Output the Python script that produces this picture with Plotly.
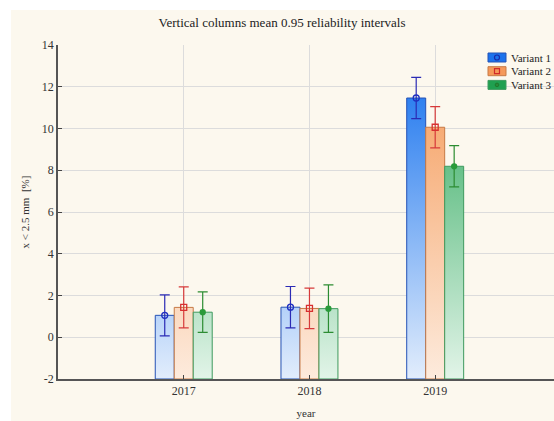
import plotly.graph_objects as go

# Category labels and series (mean with 0.95 interval half-widths)
years = ["2017", "2018", "2019"]
series_names = ["Variant 1", "Variant 2", "Variant 3"]
means_v1 = [1.05, 1.44, 11.46]
means_v2 = [1.43, 1.38, 10.06]
means_v3 = [1.20, 1.37, 8.19]
err_v1 = [0.98, 0.99, 0.99]
err_v2 = [0.98, 0.97, 0.99]
err_v3 = [0.97, 1.14, 0.99]
y_ticks = [-2, 0, 2, 4, 6, 8, 10, 12, 14]

SERIF = "Liberation Serif, Times New Roman, serif"
BASE = -2.0          # columns rise from the bottom of the value axis
BAR_W = 0.151        # column width in category units
OFFSETS = [-BAR_W, 0.0, BAR_W]

styles = [
    dict(light="#e2edfc", dark="#1a74ee", edge="#2552b5", err="#2b2bb5",
         symbol="circle-open", msize=6, mcolor="#1f2fc0", box="#1b72ec"),
    dict(light="#fdebdd", dark="#f59c5c", edge="#c77a45", err="#d63a3a",
         symbol="square-open", msize=6, mcolor="#d83030", box="#f5995a"),
    dict(light="#e2f4e8", dark="#2da85c", edge="#3e9a5e", err="#2c8c32",
         symbol="circle", msize=5, mcolor="#2a9a3a", box="#20a050"),
]
means = [means_v1, means_v2, means_v3]
errs = [err_v1, err_v2, err_v3]

fig = go.Figure()

for k in range(3):
    st = styles[k]
    xs, ys = [], []
    for i, v in enumerate(means[k]):
        xc = i + OFFSETS[k]
        x0, x1 = xc - BAR_W / 2, xc + BAR_W / 2
        xs += [x0, x0, x1, x1, x0, None]
        ys += [BASE, v, v, BASE, BASE, None]
    fig.add_trace(go.Scatter(
        x=xs, y=ys, mode="lines", fill="toself",
        line=dict(color=st["edge"], width=1),
        fillgradient=dict(type="vertical", start=-2, stop=13,
                          colorscale=[[0, st["light"]], [1, st["dark"]]]),
        showlegend=False, hoverinfo="skip",
    ))

for k in range(3):
    st = styles[k]
    fig.add_trace(go.Scatter(
        x=[i + OFFSETS[k] for i in range(len(years))], y=means[k],
        mode="markers", name=series_names[k], showlegend=False,
        marker=dict(symbol=st["symbol"], size=st["msize"], color=st["mcolor"],
                    line=dict(width=1.3, color=st["mcolor"])),
        error_y=dict(type="data", array=errs[k], visible=True,
                     color=st["err"], thickness=1.2, width=5),
    ))

# plot-area pixel frame used for placing decorations in paper units
L, T, B, W, H = 58, 45, 42, 554, 421
PW, PH = W - L, H - T - B


def px(x):
    return (x - L) / PW


def py(y):
    return (H - B - y) / PH


shapes = [
    # cream panel behind the plot area
    dict(type="rect", xref="paper", yref="paper", layer="below",
         x0=px(11), x1=px(560), y0=py(425), y1=py(10),
         fillcolor="#fcf8ee", line=dict(width=0)),
]
annotations = []
for k in range(3):
    st = styles[k]
    top = 53 + 13.7 * k
    shapes.append(dict(type="rect", xref="paper", yref="paper",
                       x0=px(488), x1=px(506), y0=py(top + 9), y1=py(top),
                       fillcolor=st["box"], line=dict(color=st["edge"], width=1)))
    cx, cy = 497, top + 4.5
    if k == 0:
        shapes.append(dict(type="circle", xref="paper", yref="paper",
                           x0=px(cx - 2.5), x1=px(cx + 2.5), y0=py(cy + 2.5), y1=py(cy - 2.5),
                           line=dict(color="#1a2aa8", width=1.2)))
    elif k == 1:
        shapes.append(dict(type="rect", xref="paper", yref="paper",
                           x0=px(cx - 2.5), x1=px(cx + 2.5), y0=py(cy + 2.5), y1=py(cy - 2.5),
                           line=dict(color="#d02a2a", width=1.2)))
    else:
        shapes.append(dict(type="circle", xref="paper", yref="paper",
                           x0=px(cx - 1.8), x1=px(cx + 1.8), y0=py(cy + 1.8), y1=py(cy - 1.8),
                           fillcolor="#2a8a3a", line=dict(color="#1e7a2e", width=1)))
    annotations.append(dict(xref="paper", yref="paper", x=px(509), y=py(cy),
                            xanchor="left", yanchor="middle", showarrow=False,
                            text=series_names[k],
                            font=dict(family=SERIF, size=11, color="#222")))

fig.update_layout(
    width=W, height=H,
    margin=dict(l=L, r=0, t=T, b=B),
    paper_bgcolor="white", plot_bgcolor="white",
    showlegend=False,
    title=dict(text="Vertical columns mean 0.95 reliability intervals",
               x=282 / W, xanchor="center", y=1 - 22 / H, yanchor="middle",
               font=dict(family=SERIF, size=13, color="#222")),
    xaxis=dict(range=[-1.0, 2.945], tickvals=list(range(len(years))), ticktext=years,
               showgrid=True, gridcolor="#dcdcdc", gridwidth=1, zeroline=False,
               showline=True, linecolor="#555", linewidth=1.5,
               ticks="inside", ticklen=4, tickcolor="#444",
               tickfont=dict(family=SERIF, size=12, color="#333"),
               title=dict(text="year", standoff=12,
                          font=dict(family=SERIF, size=11, color="#333"))),
    yaxis=dict(range=[-2, 14], tickvals=y_ticks, ticktext=[str(t) for t in y_ticks],
               showgrid=True, gridcolor="#dcdcdc", gridwidth=1, zeroline=False,
               showline=True, linecolor="#555", linewidth=1.5,
               ticks="inside", ticklen=4, tickcolor="#444",
               tickfont=dict(family=SERIF, size=12, color="#333"),
               title=dict(text="x < 2.5 mm  [%]", standoff=10,
                          font=dict(family=SERIF, size=11, color="#333"))),
    shapes=shapes, annotations=annotations,
)

fig.write_html("out.html")
